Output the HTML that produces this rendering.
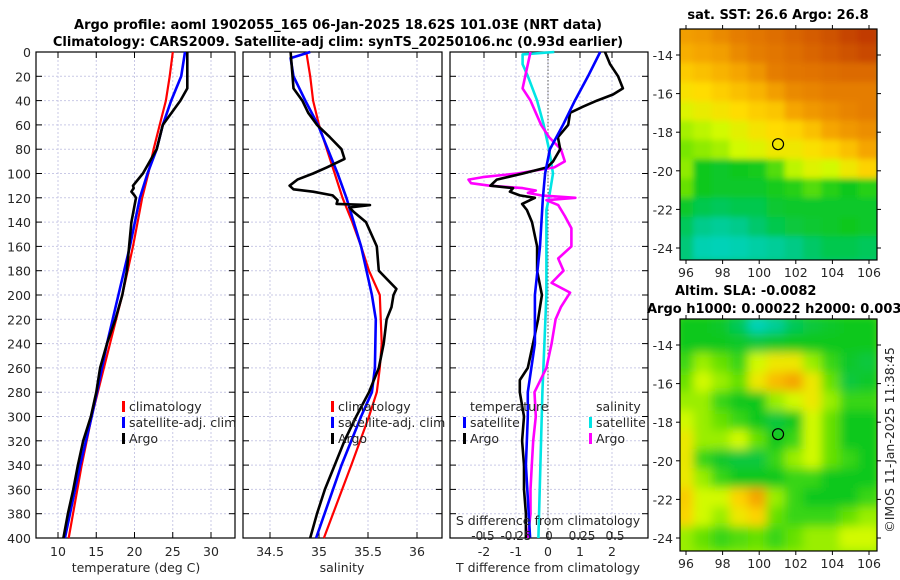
<!DOCTYPE html>
<html><head><meta charset="utf-8"><style>
body{margin:0;background:#fff;}
svg{display:block;font-family:"DejaVu Sans","Liberation Sans",sans-serif;}
.t{font-size:12.5px;fill:#262626}
.s{font-size:12px;fill:#262626}
.b{font-weight:bold;font-size:13px;fill:#000}
</style></head><body>
<svg id="c" width="900" height="580" viewBox="0 0 900 580"></svg>
<script>
// ---------- data ----------
const depthTicks=[0,20,40,60,80,100,120,140,160,180,200,220,240,260,280,300,320,340,360,380,400];
const tempTicks=[10,15,20,25,30];
const salTicks=[34.5,35,35.5,36];
const tdiffTicks=[-2,-1,0,1,2];
const sdiffTicks=[-0.5,-0.25,0,0.25,0.5];
const sdiffLabels=["-0.5","-0.25","0","0.25","0.5"];
const latTicks=[-14,-16,-18,-20,-22,-24];
const lonTicks=[96,98,100,102,104,106];

const tClimDepth=[0,20,40,60,80,100,120,160,200,240,280,300,340,400];
const tClim=[25.0,24.6,24.1,23.3,22.5,21.8,21.0,19.8,18.4,16.8,15.2,14.4,13.1,11.4];
const tSatDepth=[0,20,40,60,80,100,120,160,200,240,280,300,340,400];
const tSat=[26.6,26.1,24.8,23.7,22.9,21.7,20.7,19.4,17.9,16.4,15.1,14.4,12.9,10.9];
const tArgoDepth=[0,30,40,60,80,100,110,112,115,118,120,140,160,180,200,220,240,260,280,300,320,340,360,380,400];
const tArgo=[26.9,26.9,26.0,23.7,22.9,21.1,19.8,19.9,19.6,20.0,20.2,19.6,19.3,19.0,18.4,17.5,16.4,15.5,15.0,14.3,13.3,12.6,12.0,11.3,10.7];

const sClimDepth=[0,20,40,60,80,100,120,140,160,180,200,240,260,280,300,340,400];
const sClim=[34.87,34.91,34.94,35.0,35.08,35.16,35.24,35.34,35.43,35.51,35.62,35.64,35.62,35.59,35.51,35.33,35.05];
const sSatDepth=[0,5,20,40,60,80,100,120,160,200,220,260,280,300,340,400];
const sSat=[34.91,34.71,34.74,34.86,34.99,35.09,35.19,35.28,35.43,35.54,35.58,35.57,35.54,35.43,35.23,34.97];
const sArgoDepth=[0,10,30,40,50,60,70,80,88,95,100,105,110,113,115,118,122,125,126,128,132,140,160,180,195,200,210,220,240,260,280,300,320,340,360,380,400];
const sArgo=[34.71,34.72,34.74,34.83,34.89,34.98,35.11,35.23,35.26,35.08,34.94,34.78,34.70,34.74,34.94,35.14,35.19,35.18,35.52,35.31,35.36,35.48,35.59,35.61,35.79,35.76,35.74,35.69,35.66,35.61,35.51,35.38,35.26,35.16,35.06,34.98,34.91];

const tdSatDepth=[0,20,40,60,80,100,120,160,200,240,280,300,340,400];
const tdSat=[1.63,1.25,0.84,0.47,0.06,-0.09,-0.16,-0.25,-0.41,-0.41,-0.63,-0.63,-0.69,-0.56];
const tdArgoDepth=[0,10,20,30,35,40,45,50,60,70,80,90,95,100,105,110,112,115,118,120,125,130,140,160,180,200,220,240,260,270,280,300,320,340,360,380,400];
const tdArgo=[1.78,1.94,2.19,2.34,2.03,1.53,1.09,0.69,0.63,0.31,0.38,0.16,-0.03,-0.78,-1.6,-1.8,-1.09,-1.19,-0.88,-0.41,-0.81,-0.66,-0.5,-0.34,-0.34,-0.19,-0.31,-0.47,-0.63,-0.88,-0.88,-0.75,-0.81,-0.75,-0.75,-0.69,-0.69];
const sdSatDepth=[0,2,10,20,40,60,80,100,120,130,160,200,280,400];
const sdSat=[0.04,-0.2,-0.2,-0.16,-0.09,-0.04,0.0,0.03,0.0,-0.02,-0.02,-0.02,-0.05,-0.08];
const sdArgoDepth=[0,20,30,40,50,60,70,80,90,95,100,103,105,108,110,112,114,116,118,120,122,126,135,145,160,170,180,190,198,210,220,240,260,280,300,320,340,360,380,400];
const sdArgo=[-0.14,-0.18,-0.2,-0.14,-0.1,-0.06,0.0,0.09,0.12,0.04,-0.24,-0.5,-0.61,-0.59,-0.45,-0.2,-0.1,-0.16,-0.06,0.2,-0.02,0.07,0.12,0.17,0.17,0.07,0.11,0.02,0.16,0.09,0.05,0.02,-0.02,-0.11,-0.1,-0.12,-0.13,-0.14,-0.14,-0.16];

const sstLats=[-13,-14,-15,-16,-17,-18,-19,-20,-21,-22,-23,-24];
const sstGrid=[
[0.72,0.74,0.78,0.82,0.84,0.86,0.88,0.9,0.92,0.95,0.97],
[0.68,0.7,0.72,0.78,0.82,0.84,0.86,0.88,0.9,0.92,0.94],
[0.62,0.64,0.67,0.7,0.75,0.82,0.84,0.85,0.86,0.87,0.87],
[0.57,0.58,0.61,0.64,0.67,0.72,0.78,0.8,0.82,0.82,0.82],
[0.52,0.54,0.56,0.58,0.61,0.63,0.7,0.74,0.77,0.8,0.82],
[0.46,0.48,0.5,0.53,0.56,0.58,0.6,0.64,0.7,0.74,0.77],
[0.42,0.44,0.46,0.5,0.52,0.55,0.55,0.57,0.6,0.64,0.7],
[0.44,0.3,0.28,0.3,0.31,0.38,0.48,0.52,0.5,0.55,0.6],
[0.4,0.3,0.28,0.28,0.28,0.31,0.33,0.38,0.33,0.3,0.33],
[0.28,0.22,0.2,0.22,0.22,0.27,0.28,0.28,0.28,0.28,0.28],
[0.2,0.12,0.1,0.12,0.17,0.22,0.25,0.27,0.28,0.3,0.28],
[0.15,0.06,0.05,0.06,0.08,0.1,0.13,0.18,0.22,0.22,0.2]];
const slaGrid=[
[0.3,0.3,0.28,0.2,0.05,0.1,0.2,0.25,0.28,0.3,0.3],
[0.3,0.3,0.3,0.28,0.25,0.28,0.3,0.3,0.3,0.3,0.3],
[0.35,0.45,0.4,0.35,0.5,0.55,0.55,0.45,0.35,0.28,0.25],
[0.4,0.5,0.45,0.4,0.55,0.65,0.7,0.55,0.4,0.25,0.28],
[0.45,0.45,0.35,0.3,0.3,0.45,0.5,0.55,0.45,0.35,0.35],
[0.5,0.45,0.4,0.35,0.3,0.25,0.3,0.5,0.4,0.3,0.3],
[0.55,0.45,0.45,0.5,0.4,0.3,0.35,0.5,0.4,0.3,0.3],
[0.55,0.35,0.28,0.25,0.25,0.35,0.45,0.5,0.4,0.35,0.3],
[0.55,0.45,0.35,0.3,0.3,0.3,0.35,0.35,0.3,0.3,0.3],
[0.62,0.5,0.5,0.6,0.7,0.45,0.35,0.3,0.3,0.3,0.35],
[0.6,0.5,0.45,0.55,0.6,0.4,0.35,0.35,0.35,0.4,0.45],
[0.45,0.4,0.35,0.38,0.4,0.35,0.4,0.45,0.45,0.5,0.5]];
const argoLon=101.03, argoLat=-18.62;

// ---------- drawing ----------
const NS="http://www.w3.org/2000/svg", svg=document.getElementById('c');
function el(tag,at,parent){const e=document.createElementNS(NS,tag);for(const k in at)e.setAttribute(k,at[k]);(parent||svg).appendChild(e);return e;}
function txt(s,x,y,cls,anchor,name,parent){const e=el('text',{x:x,y:y,class:cls,'text-anchor':anchor||'middle'},parent);e.textContent=s;


return e;}
const Y0=52,Y1=538; const yD=d=>Y0+(d/400)*(Y1-Y0);
function lin(d0,d1,p0,p1){return v=>p0+(v-d0)/(d1-d0)*(p1-p0);}

function panel(name,x0,x1,xs,ticks,labels){
  const g=el('g',{});
  
  
  ticks.forEach(t=>{const x=xs(t);const l=el('line',{x1:x,x2:x,y1:Y0,y2:Y1,stroke:'#c9c9e6','stroke-dasharray':'2,2','stroke-width':1},g);
    });
  depthTicks.forEach(d=>{const y=yD(d);const l=el('line',{x1:x0,x2:x1,y1:y,y2:y,stroke:'#c9c9e6','stroke-dasharray':'2,2'},g);
    
    el('line',{x1:x0,x2:x0+6,y1:y,y2:y,stroke:'#000'},g);el('line',{x1:x1-6,x2:x1,y1:y,y2:y,stroke:'#000'},g);});
  ticks.forEach((t,i)=>{const x=xs(t);el('line',{x1:x,x2:x,y1:Y1,y2:Y1-6,stroke:'#000'},g);el('line',{x1:x,x2:x,y1:Y0,y2:Y0+6,stroke:'#000'},g);
    txt(labels?labels[i]:String(t),x,556,'t','middle','x-tick-label',g);});
  const r=el('rect',{x:x0,y:Y0,width:x1-x0,height:Y1-Y0,fill:'none',stroke:'#000','stroke-width':1.2},g);
  
  return g;
}
function series(g,name,depths,vals,xs,color,w){
  const pts=depths.map((d,i)=>xs(vals[i]).toFixed(1)+','+yD(d).toFixed(1)).join(' ');
  const p=el('polyline',{points:pts,fill:'none',stroke:color,'stroke-width':w||2.6,'stroke-linejoin':'round'},g);
  
  
}
function legendItem(g,name,x,y,color,label){
  const m=el('rect',{x:x,y:y-10,width:3,height:11,fill:color},g);
  
  
  txt(label,x+7,y,'t','start',name,g);
}
// panel 1
const xT=lin(10,30,58,211);
const p1=panel('temperature-panel',36,235,xT,tempTicks);
series(p1,'temp-climatology-line',tClimDepth,tClim,xT,'#ff0000',2.2);
series(p1,'temp-satellite-line',tSatDepth,tSat,xT,'#0000ff');
series(p1,'temp-argo-line',tArgoDepth,tArgo,xT,'#000');
legendItem(p1,'legend-climatology',122,411,'#ff0000','climatology');
legendItem(p1,'legend-satellite-adj',122,427,'#0000ff','satellite-adj. clim');
legendItem(p1,'legend-argo',122,443,'#000','Argo');
txt('temperature (deg C)',136,572,'t','middle','x-axis-title-temperature');
depthTicks.forEach(d=>txt(String(d),31,yD(d)+5,'t','end','y-tick-label'));
// panel 2
const xS=lin(34.5,36,270,417);
const p2=panel('salinity-panel',243,442,xS,salTicks);
series(p2,'sal-climatology-line',sClimDepth,sClim,xS,'#ff0000',2.2);
series(p2,'sal-satellite-line',sSatDepth,sSat,xS,'#0000ff');
series(p2,'sal-argo-line',sArgoDepth,sArgo,xS,'#000');
legendItem(p2,'legend-climatology-2',331,411,'#ff0000','climatology');
legendItem(p2,'legend-satellite-adj-2',331,427,'#0000ff','satellite-adj. clim');
legendItem(p2,'legend-argo-2',331,443,'#000','Argo');
txt('salinity',342,572,'t','middle','x-axis-title-salinity');
// panel 3
const xTd=lin(0,1,548,580), xSd=lin(0,1,549,681);
const p3=panel('difference-panel',450,648,xTd,tdiffTicks);
const z=el('line',{x1:xTd(0),x2:xTd(0),y1:Y0,y2:Y1,stroke:'#555','stroke-dasharray':'1.5,2'},p3);

series(p3,'sdiff-satellite-line',sdSatDepth,sdSat,xSd,'#00e5e5');
series(p3,'sdiff-argo-line',sdArgoDepth,sdArgo,xSd,'#ff00ff');
series(p3,'tdiff-argo-line',tdArgoDepth,tdArgo,xTd,'#000');
series(p3,'tdiff-satellite-line',tdSatDepth,tdSat,xTd,'#0000ff');
txt('temperature',470,411,'t','start','legend-temperature-heading',p3);
legendItem(p3,'legend-t-satellite',463,427,'#0000ff','satellite');
legendItem(p3,'legend-t-argo',463,443,'#000','Argo');
txt('salinity',596,411,'t','start','legend-salinity-heading',p3);
legendItem(p3,'legend-s-satellite',589,427,'#00e5e5','satellite');
legendItem(p3,'legend-s-argo',589,443,'#ff00ff','Argo');
txt('S difference from climatology',548,525,'t','middle','s-axis-title',p3);
sdiffTicks.forEach((t,i)=>txt(sdiffLabels[i],xSd(t),540,'s','middle','s-tick-label',p3));
txt('T difference from climatology',548,572,'t','middle','x-axis-title-tdiff');
// titles
txt('Argo profile: aoml 1902055_165 06-Jan-2025 18.62S 101.03E (NRT data)',338,29,'b','middle','title-line-1');
txt('Climatology: CARS2009. Satellite-adj clim: synTS_20250106.nc (0.93d earlier)',338,46,'b','middle','title-line-2');

// maps
function cmap(v){const stops=[[0,[0,215,215]],[0.15,[0,200,120]],[0.3,[10,200,30]],[0.42,[120,230,0]],[0.5,[210,250,0]],[0.58,[255,220,0]],[0.7,[245,165,0]],[0.85,[225,115,0]],[1,[185,45,0]]];
  for(let i=1;i<stops.length;i++){if(v<=stops[i][0]){const a=stops[i-1],b=stops[i],f=(v-a[0])/(b[0]-a[0]);return 'rgb('+a[1].map((c,k)=>Math.round(c+(b[1][k]-c)*f)).join(',')+')';}}return 'rgb(185,45,0)';}
let fid=0;
function map(name,grid,x0,y0,x1,y1,latY0,blur){
  const xl=lin(96,106,686,869), yl=lin(-14,-24,latY0,latY0+193);
  const g=el('g',{});
  
  
  const id='clip'+fid, fl='blur'+fid; fid++;
  const defs=el('defs',{},g);
  const cp=el('clipPath',{id:id},defs); el('rect',{x:x0,y:y0,width:x1-x0,height:y1-y0},cp);
  const f=el('filter',{id:fl,x:'-10%',y:'-10%',width:'120%',height:'120%'},defs); el('feGaussianBlur',{stdDeviation:blur},f);
  const ig=el('g',{'clip-path':'url(#'+id+')'},g);
  el('rect',{x:x0,y:y0,width:x1-x0,height:y1-y0,fill:cmap(grid[grid.length-1][0])},ig);
  const bg=el('g',{filter:'url(#'+fl+')'},ig);
  grid.forEach((row,r)=>row.forEach((v,c)=>{
    const cx=xl(96+c), cy=yl(sstLats[r]);
    const w=xl(97)-xl(96), h=yl(-15)-yl(-14);
    const cell=el('rect',{x:cx-w/2-2,y:cy-h/2-2,width:w+4,height:h+4,fill:cmap(v)},bg);
    
    
  }));
  const m=el('circle',{cx:xl(argoLon),cy:yl(argoLat),r:5.5,fill:'none',stroke:'#000','stroke-width':1.2},g);
  
  el('rect',{x:x0,y:y0,width:x1-x0,height:y1-y0,fill:'none',stroke:'#000','stroke-width':1.2},g);
  latTicks.forEach(t=>{const y=yl(t);el('line',{x1:x0-4,x2:x0,y1:y,y2:y,stroke:'#000'},g);el('line',{x1:x1,x2:x1+4,y1:y,y2:y,stroke:'#000'},g);
    txt(String(t),673,y+5,'t','end','lat-tick-label',g);});
  lonTicks.forEach(t=>{const x=xl(t);el('line',{x1:x,x2:x,y1:y1,y2:y1+4,stroke:'#000'},g);el('line',{x1:x,x2:x,y1:y0-4,y2:y0,stroke:'#000'},g);
    txt(String(t),x,y1+17,'t','middle','lon-tick-label',g);});
}
map('sst-map',sstGrid,680,29,877,260,55,3);
map('sla-map',slaGrid,680,319,877,551,345,5);
txt('sat. SST: 26.6 Argo: 26.8',778,19,'b','middle','sst-map-title');
txt('Altim. SLA: -0.0082',675,295,'b','start','sla-map-title');
txt('Argo h1000: 0.00022 h2000: 0.003',647,313,'b','start','sla-map-subtitle');
const cr=txt('©IMOS 11-Jan-2025 11:38:45',0,0,'t','middle','copyright-timestamp');
cr.setAttribute('transform','translate(894,440) rotate(-90)');
</script>
</body></html>
